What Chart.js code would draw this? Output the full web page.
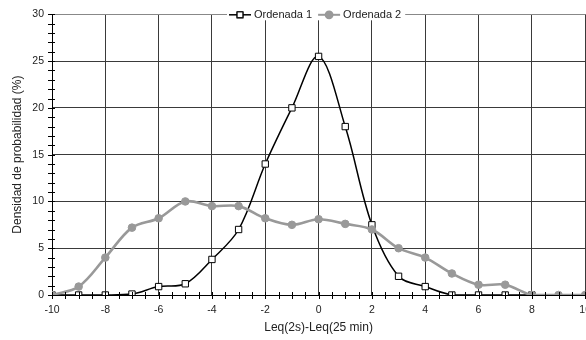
<!DOCTYPE html>
<html>
<head>
<meta charset="utf-8">
<script src="https://cdn.jsdelivr.net/npm/chart.js@4/dist/chart.umd.min.js"></script>
<style>
  html, body { margin: 0; padding: 0; background: #fff; overflow: hidden; }
  #wrap { width: 586px; height: 340px; overflow: hidden; }
</style>
</head>
<body>
<div id="wrap"><canvas id="chart" width="600" height="340"></canvas></div>
<script>
// Leq(2s)-Leq(25 min) classes
const xValues = [-10, -9, -8, -7, -6, -5, -4, -3, -2, -1, 0, 1, 2, 3, 4, 5, 6, 7, 8, 9, 10];
// Ordenada 1 (black, squares)
const ordenada1 = [0, 0, 0, 0.1, 0.9, 1.2, 3.8, 7.0, 14.0, 20.0, 25.5, 18.0, 7.5, 2.0, 0.9, 0, 0, 0, 0, null, null];
// Ordenada 2 (gray, circles)
const ordenada2 = [0, 0.9, 4.0, 7.2, 8.2, 10.0, 9.5, 9.5, 8.2, 7.5, 8.1, 7.6, 7.0, 5.0, 4.0, 2.3, 1.1, 1.1, 0, 0, 0];
const xTickLabels = [-10, -8, -6, -4, -2, 0, 2, 4, 6, 8, 10];

const FONT = "'Liberation Sans', Arial, sans-serif";
const gridColor = "#3a3a3a";
const textColor = "#222";

const toPoints = (ys) => xValues.map((x, i) => ({ x: x, y: ys[i] }));

// minor ticks crossing both axes, plus a line+marker legend on the top border
const extras = {
  id: "extras",
  afterDraw(chart) {
    const ctx = chart.ctx;
    const xs = chart.scales.x, ys = chart.scales.y;
    const y0 = ys.getPixelForValue(0);
    const x0 = xs.getPixelForValue(-10);
    ctx.save();
    ctx.strokeStyle = "#000";
    ctx.lineWidth = 1;
    ctx.beginPath();
    for (let v = -10; v <= 10; v += 0.5) {
      const px = Math.round(xs.getPixelForValue(v)) + 0.5;
      ctx.moveTo(px, y0 - 3);
      ctx.lineTo(px, y0 + 4);
    }
    for (let v = 0; v <= 30; v += 1) {
      const py = Math.round(ys.getPixelForValue(v)) + 0.5;
      ctx.moveTo(x0 - 4, py);
      ctx.lineTo(x0 + 3, py);
    }
    ctx.stroke();

    // legend
    const top = ys.getPixelForValue(30);
    ctx.font = "11px " + FONT;
    ctx.textBaseline = "middle";
    const items = chart.data.datasets.map(d => ({ d: d, w: ctx.measureText(d.label).width }));
    const segW = 22, gap = 3, sep = 6;
    let total = 0;
    items.forEach(it => { total += segW + gap + it.w; });
    total += sep * (items.length - 1);
    let x = 229;
    ctx.fillStyle = "#fff";
    ctx.fillRect(x - 2, top - 6, total + 6, 12);
    items.forEach(it => {
      const d = it.d;
      ctx.strokeStyle = d.borderColor;
      ctx.lineWidth = Math.min(d.borderWidth, 2);
      ctx.beginPath();
      ctx.moveTo(x, top + 0.5);
      ctx.lineTo(x + segW, top + 0.5);
      ctx.stroke();
      Chart.helpers.drawPoint(ctx, {
        pointStyle: d.pointStyle, radius: d.pointRadius * 0.9, borderWidth: 1
      }, x + segW / 2, top + 0.5);
      ctx.fillStyle = d.pointBackgroundColor;
      ctx.fill();
      ctx.strokeStyle = d.pointBorderColor;
      ctx.lineWidth = 1;
      ctx.stroke();
      ctx.fillStyle = textColor;
      ctx.fillText(d.label, x + segW + gap, top + 1);
      x += segW + gap + it.w + sep;
    });
    ctx.restore();
  }
};

new Chart(document.getElementById("chart"), {
  type: "scatter",
  data: {
    datasets: [
      {
        label: "Ordenada 1",
        data: toPoints(ordenada1),
        showLine: true,
        borderColor: "#000",
        borderWidth: 1.5,
        tension: 0.35,
        pointStyle: "rect",
        pointRadius: 4.5,
        pointBackgroundColor: "#fff",
        pointBorderColor: "#000",
        pointBorderWidth: 1,
        order: 2
      },
      {
        label: "Ordenada 2",
        data: toPoints(ordenada2),
        showLine: true,
        borderColor: "#999",
        borderWidth: 2.6,
        tension: 0.35,
        pointStyle: "circle",
        pointRadius: 3.8,
        pointBackgroundColor: "#999",
        pointBorderColor: "#999",
        pointBorderWidth: 1,
        order: 1
      }
    ]
  },
  options: {
    responsive: false,
    animation: false,
    devicePixelRatio: 1,
    layout: { padding: { top: 14, right: 13, left: 0, bottom: 0 } },
    plugins: { legend: { display: false }, tooltip: { enabled: false } },
    scales: {
      x: {
        type: "linear",
        min: -10,
        max: 10,
        afterFit: (s) => { s.height = 45; },
        afterBuildTicks: (s) => { s.ticks = xTickLabels.map(v => ({ value: v })); },
        ticks: { color: textColor, font: { family: FONT, size: 10.5 }, padding: 9, maxRotation: 0 },
        grid: { color: gridColor, drawTicks: false },
        border: { color: "#000", width: 1 },
        title: { display: true, text: "Leq(2s)-Leq(25 min)", color: textColor, font: { family: FONT, size: 12 }, padding: { top: 0, bottom: 5 } }
      },
      y: {
        min: 0,
        max: 30,
        afterFit: (s) => { s.width = 52; },
        ticks: { stepSize: 5, color: textColor, font: { family: FONT, size: 10.5 }, padding: 8 },
        grid: { color: (c) => c.tick && c.tick.value === 30 ? "#888" : gridColor, drawTicks: false },
        border: { color: "#000", width: 1 },
        title: { display: true, text: "Densidad de probabilidad (%)", color: textColor, font: { family: FONT, size: 12 }, padding: { top: 10, bottom: 0 } }
      }
    }
  },
  plugins: [extras]
});
</script>
</body>
</html>
